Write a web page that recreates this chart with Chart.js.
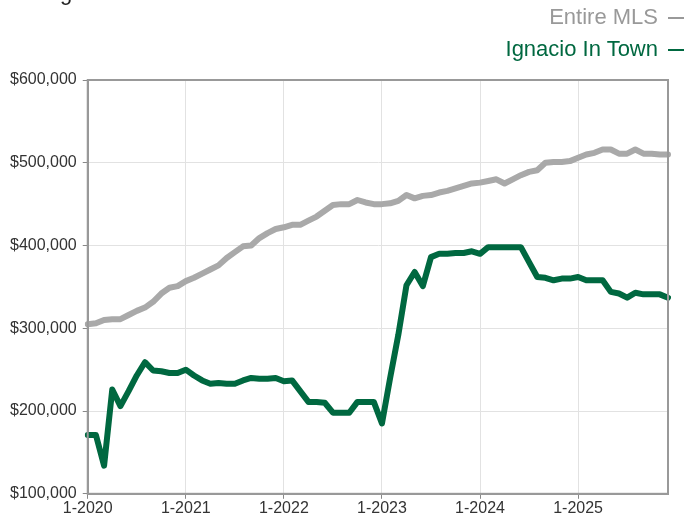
<!DOCTYPE html>
<html>
<head>
  <meta charset="UTF-8">
  <title>Median Sales Price</title>
  <style>
    body { margin: 0; background: #fff; font-family: "Liberation Sans", Arial, sans-serif; }
    .wrapper { position: relative; width: 688px; height: 518px; overflow: hidden; }
    .subtitle { position: absolute; left: 5px; top: -18px; font-size: 22px; line-height: 22px; color: #999; white-space: nowrap; }
    .subtitle b { font-weight: normal; color: #222; }
    .legend { position: absolute; right: 4px; top: 1px; font-size: 22px; line-height: 32px; text-align: right; }
    .legend .mark { display: inline-block; width: 16px; height: 2px; margin-left: 10px; vertical-align: middle; }
  </style>
</head>
<body>
  <div class="wrapper">
    <!-- top line of the report is cut off in the picture -->
    <div class="subtitle"><b>Rolling</b> 12-Month Calculation</div>
    <div class="legend" id="legend"></div>
    <canvas id="priceChart" width="688" height="518"></canvas>
  </div>

  <script src="https://cdn.jsdelivr.net/npm/chart.js@4.4.1/dist/chart.umd.min.js"></script>
  <script>
    // categories: one point per month, 1-2020 .. 12-2025
    const years = [2020, 2021, 2022, 2023, 2024, 2025];
    const monthNums = [1, 2, 3, 4, 5, 6, 7, 8, 9, 10, 11, 12];
    const labels = [];
    years.forEach(y => monthNums.forEach(m => labels.push(m + '-' + y)));

    // median sales price, thousands of dollars
    const entireMLS = [
      305, 306, 310, 311, 311, 316, 321, 325, 332, 342, 349, 351,
      357, 361, 366, 371, 376, 385, 392, 399, 400, 409, 415, 420,
      422, 425, 425, 430, 435, 442, 449, 450, 450, 455, 452, 450,
      450, 451, 454, 461, 457, 460, 461, 464, 466, 469, 472, 475,
      476, 478, 480, 475, 480, 485, 489, 491, 500, 501, 501, 502,
      506, 510, 512, 516, 516, 511, 511, 516, 511, 511, 510, 510
    ];
    const ignacioInTown = [
      171, 171, 134, 226, 206, 224, 243, 259, 249, 248, 246, 246,
      250, 243, 237, 233, 234, 233, 233, 237, 240, 239, 239, 240,
      236, 237, 224, 211, 211, 210, 198, 198, 198, 211, 211, 211,
      185, 240, 292, 352, 368, 351, 386, 390, 390, 391, 391, 393,
      390, 398, 398, 398, 398, 398, 380, 362, 361, 358, 360, 360,
      362, 358, 358, 358, 344, 342, 337, 343, 341, 341, 341, 337
    ];

    const seriesNames = ['Entire MLS', 'Ignacio In Town'];
    const seriesColors = ['#a9a9a9', '#006840'];
    const legendColors = ['#999999', '#006840'];

    // legend sits top right, label first and the line mark after it
    const legend = document.getElementById('legend');
    seriesNames.forEach((name, i) => {
      const row = document.createElement('div');
      row.style.color = legendColors[i];
      row.innerHTML = name + '<span class="mark" style="background:' + legendColors[i] + '"></span>';
      legend.appendChild(row);
    });

    // frame round the plot area (top and right edges)
    const frame = {
      id: 'frame',
      afterDraw(chart) {
        const a = chart.chartArea, c = chart.ctx;
        c.save();
        c.strokeStyle = '#999';
        c.lineWidth = 2;
        c.strokeRect(a.left, a.top, a.right - a.left, a.bottom - a.top);
        c.restore();
      }
    };

    const ctx = document.getElementById('priceChart').getContext('2d');
    new Chart(ctx, {
      type: 'line',
      data: {
        labels: labels,
        datasets: [
          {
            label: seriesNames[0],
            data: entireMLS.map(v => v * 1000),
            borderColor: seriesColors[0],
            borderWidth: 6,
            pointRadius: 0,
            tension: 0,
            borderJoinStyle: 'round',
            borderCapStyle: 'round'
          },
          {
            label: seriesNames[1],
            data: ignacioInTown.map(v => v * 1000),
            borderColor: seriesColors[1],
            borderWidth: 6,
            pointRadius: 0,
            tension: 0,
            borderJoinStyle: 'round',
            borderCapStyle: 'round'
          }
        ]
      },
      options: {
        responsive: false,
        animation: false,
        layout: { padding: { left: 4, right: 20, top: 80, bottom: 0 } },
        plugins: {
          legend: { display: false },
          tooltip: { enabled: false }
        },
        scales: {
          x: {
            grid: { color: '#e2e2e2', tickColor: '#888', tickLength: 5 },
            border: { color: '#999', width: 2 },
            ticks: {
              autoSkip: false,
              maxRotation: 0,
              padding: 0,
              color: '#333',
              font: { family: 'Liberation Sans', size: 16 },
              callback: function (val) {
                const l = this.getLabelForValue(val);
                return l.startsWith('1-') ? l : null;
              }
            }
          },
          y: {
            min: 100000,
            max: 600000,
            grid: { color: '#e2e2e2', tickColor: '#888', tickLength: 5 },
            border: { color: '#999', width: 2 },
            ticks: {
              stepSize: 100000,
              padding: 6,
              color: '#333',
              font: { family: 'Liberation Sans', size: 16 },
              callback: v => '$' + v.toLocaleString('en-US')
            }
          }
        }
      },
      plugins: [frame]
    });
  </script>
</body>
</html>
